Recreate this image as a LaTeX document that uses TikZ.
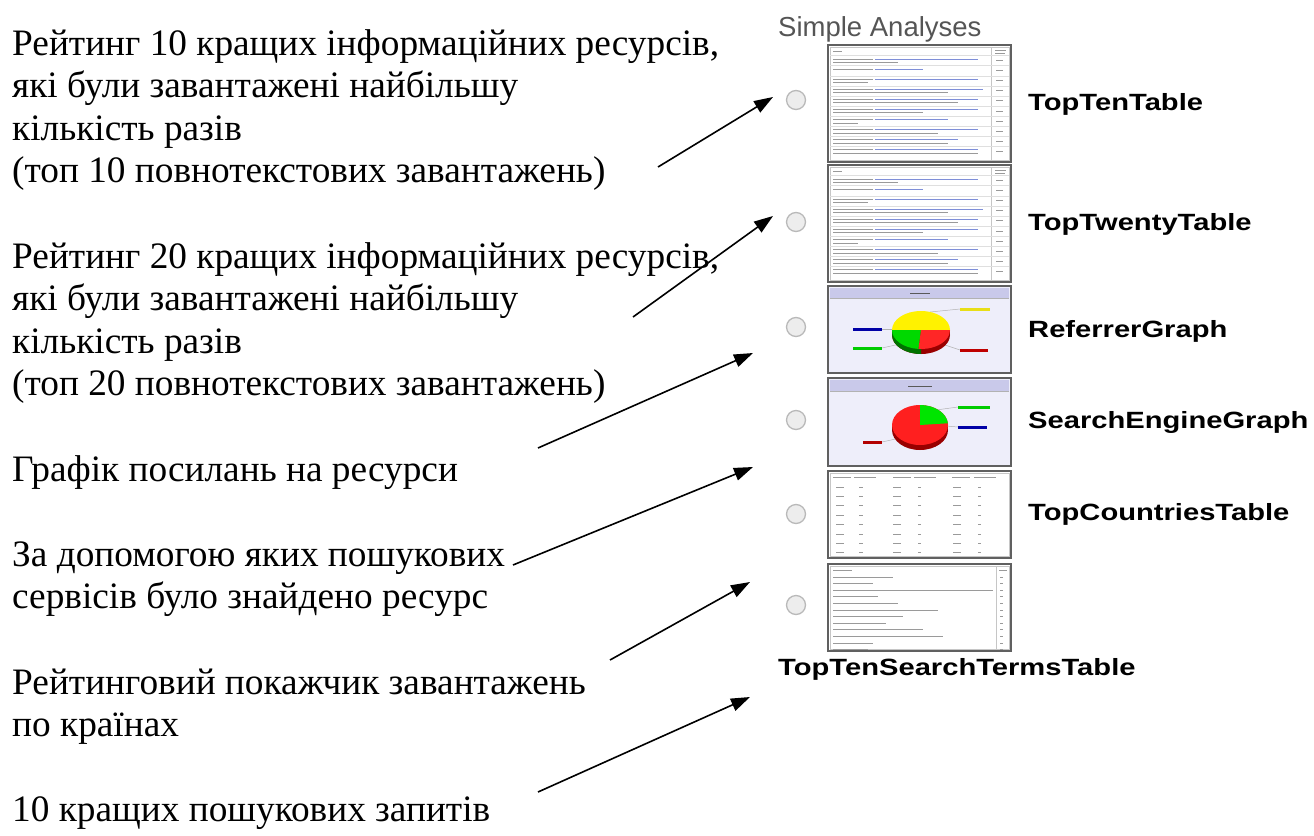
\documentclass[tikz,border=0pt]{standalone}
\usepackage{fontspec}
\usepackage{graphicx}
\setmainfont{Liberation Serif}
\newfontfamily\sansf{Liberation Sans}
\usetikzlibrary{arrows.meta}
\definecolor{lav}{HTML}{EEEEFA}
\definecolor{hdrc}{HTML}{C9C9EA}
\definecolor{txtc}{HTML}{9A9A9A}
\definecolor{lnkc}{HTML}{7F8FD8}
\definecolor{titc}{HTML}{555555}
\newcommand\stretchlbl[1]{\scalebox{1.24}[1]{#1}}
\tikzset{
  desc/.style={anchor=base west, inner sep=0pt, font=\fontsize{37.3}{42.6}\selectfont},
  lab/.style={anchor=base west, inner sep=0pt, font=\sansf\bfseries\fontsize{23.5}{28}\selectfont},
  arr/.style={-{Triangle[length=19pt,width=13pt]}, line width=1.6pt},
  radio/.style={circle, minimum size=19pt, inner sep=0pt, draw=gray!55, fill=gray!14, line width=1.3pt},
  thumb/.style={draw=gray!75!black, line width=1.4pt, minimum width=183pt, minimum height=#1, inner sep=0pt},
  tx/.style={draw=txtc, line width=0.9pt},
  lk/.style={draw=lnkc, line width=0.9pt},
  leader/.style={draw=gray!60, line width=0.5pt},
}
\begin{document}
\begin{tikzpicture}[x=1pt,y=-1pt]
\useasboundingbox (0,0) rectangle (1314,835);

% ---------- left descriptions ----------
\node[desc] (d1a) at (12,55)    {Рейтинг 10 кращих інформаційних ресурсів,};
\node[desc] (d1b) at (12,97.6)  {які були завантажені найбільшу};
\node[desc] (d1c) at (12,140.2) {кількість разів};
\node[desc] (d1d) at (12,182.8) {(топ 10 повнотекстових завантажень)};
\node[desc] (d2a) at (12,268)   {Рейтинг 20 кращих інформаційних ресурсів,};
\node[desc] (d2b) at (12,310.6) {які були завантажені найбільшу};
\node[desc] (d2c) at (12,353.2) {кількість разів};
\node[desc] (d2d) at (12,395.8) {(топ 20 повнотекстових завантажень)};
\node[desc] (d3)  at (12,481)   {Графік посилань на ресурси};
\node[desc] (d4a) at (12,566.2) {За допомогою яких пошукових};
\node[desc] (d4b) at (12,608.8) {сервісів було знайдено ресурс};
\node[desc] (d5a) at (12,694)   {Рейтинговий покажчик завантажень};
\node[desc] (d5b) at (12,736.6) {по країнах};
\node[desc] (d6)  at (12,821.8) {10 кращих пошукових запитів};

% ---------- title ----------
\node[anchor=base west, inner sep=0pt, text=titc, font=\sansf\fontsize{27.5}{32}\selectfont] (title) at (778,36) {Simple Analyses};

% ---------- radio buttons ----------
\node[radio] (r1) at (796,100) {};
\node[radio] (r2) at (796,222) {};
\node[radio] (r3) at (796,327) {};
\node[radio] (r4) at (796,420) {};
\node[radio] (r5) at (796,514) {};
\node[radio] (r6) at (796,605) {};

% ---------- thumbnail 1 & 2: tables ----------
\foreach \yo/\nm in {45/th1,165/th2}{
  \node[thumb=117pt] (\nm) at (919.5,\yo+58.5) {};
  \begin{scope}[shift={(828,\yo)}]
    \draw[gray!45, line width=0.5pt] (2,2) rectangle (181,115);
    \draw[gray!45, line width=0.5pt] (163,2) -- (163,115);
    \draw[tx] (5,6) -- (14,6);
    \draw[tx] (167,5) -- (178,5);
    \draw[tx] (167,8) -- (177,8);
    \foreach \i/\a/\b in {0/150/70,1/95/0,2/150/40,3/155/120,4/150/130,5/150/95,6/120/30,7/150/110,8/130/120,9/150/150}{
      \pgfmathsetmacro\yy{14+10.1*\i}
      \draw[gray!25, line width=0.4pt] (2,\yy-3.5) -- (181,\yy-3.5);
      \draw[tx] (5,\yy) -- (45,\yy);
      \draw[lk] (47,\yy) -- (\a,\yy);
      \ifnum\b>0 \draw[tx] (5,\yy+3.4) -- (\b,\yy+3.4); \fi
      \draw[tx] (168,\yy+1.5) -- (175,\yy+1.5);
    }
  \end{scope}
}

% ---------- thumbnail 3: referrer graph ----------
\node[thumb=87pt, fill=lav] (th3) at (919.5,329.5) {};
\begin{scope}[shift={(828,286)}]
  \fill[hdrc] (2,2) rectangle (181,12);
  \draw[gray!60, line width=0.5pt] (2,12) -- (181,12);
  \draw[gray!70!black, line width=1pt] (82,7) -- (102,7);
  \draw[leader] (54,43) -- (78,43);
  \draw[leader] (54,62) -- (72,58);
  \draw[leader] (132,23) -- (102,26);
  \draw[leader] (132,64) -- (114,58);
  \fill[red!60!black] (93,49) ellipse [x radius=29, y radius=19];
  \fill[green!45!black] (93,49) -- ++(-29,0) arc[start angle=180, end angle=90, x radius=29, y radius=19] -- cycle;
  \fill[green!45!black] (64,44) rectangle (93,49);
  \fill[red!60!black] (93,44) rectangle (122,49);
  \fill[yellow] (93,44) -- ++(-29,0) arc[start angle=180, end angle=360, x radius=29, y radius=19] -- cycle;
  \fill[green!85!black] (93,44) -- ++(-29,0) arc[start angle=180, end angle=95, x radius=29, y radius=19] -- cycle;
  \fill[red!85] (93,44) -- ++(29,0) arc[start angle=0, end angle=95, x radius=29, y radius=19] -- cycle;
  \fill[blue!65!black] (25,41.5) rectangle (54,44.5);
  \fill[green!80!black] (25,60.5) rectangle (54,63.5);
  \fill[yellow!90!black] (132,21.5) rectangle (162,24.5);
  \fill[red!75!black] (132,62.5) rectangle (160,65.5);
\end{scope}

% ---------- thumbnail 4: search engine graph ----------
\node[thumb=88pt, fill=lav] (th4) at (919.5,422) {};
\begin{scope}[shift={(828,378)}]
  \fill[hdrc] (2,2) rectangle (181,13);
  \draw[gray!60, line width=0.5pt] (2,13) -- (181,13);
  \draw[gray!70!black, line width=1pt] (80,8) -- (104,8);
  \draw[leader] (130,29) -- (108,32);
  \draw[leader] (130,49) -- (118,48);
  \draw[leader] (54,64) -- (72,60);
  \fill[red!60!black] (92,52) ellipse [x radius=28, y radius=20];
  \fill[red!60!black] (64,47) rectangle (120,52);
  \fill[red!88] (92,47) ellipse [x radius=28, y radius=20];
  \fill[green!90!black] (92,47) -- ++(0,-20) arc[start angle=270, end angle=355, x radius=28, y radius=20] -- cycle;
  \fill[green!80!black] (130,27.5) rectangle (162,30.5);
  \fill[blue!65!black] (130,47.5) rectangle (159,50.5);
  \fill[red!70!black] (35,62.5) rectangle (54,65.5);
\end{scope}

% ---------- thumbnail 5: countries table ----------
\node[thumb=87pt] (th5) at (919.5,514.5) {};
\begin{scope}[shift={(828,471)}]
  \draw[gray!45, line width=0.5pt] (2,2) rectangle (181,85);
  \foreach \x/\w in {5/18,26/22,65/18,86/22,124/18,146/22}{
    \draw[tx] (\x,6) -- (\x+\w,6);
  }
  \foreach \i in {0,...,7}{
    \pgfmathsetmacro\yy{16+9.4*\i}
    \draw[tx] (8,\yy) -- (16,\yy);
    \draw[tx] (31,\yy) -- (35,\yy);
    \draw[tx] (65,\yy) -- (73,\yy);
    \draw[tx] (90,\yy) -- (93,\yy);
    \draw[tx] (125,\yy) -- (133,\yy);
    \draw[tx] (150,\yy) -- (153,\yy);
  }
\end{scope}

% ---------- thumbnail 6: search terms table ----------
\node[thumb=87pt] (th6) at (919.5,607.5) {};
\begin{scope}[shift={(828,564)}]
  \draw[gray!45, line width=0.5pt] (2,2) rectangle (181,85);
  \draw[gray!45, line width=0.5pt] (168,2) -- (168,85);
  \draw[tx] (5,6) -- (24,6);
  \draw[tx] (171,6) -- (179,6);
  \foreach \i/\l in {0/65,1/45,2/165,3/50,4/70,5/110,6/75,7/58,8/95,9/115,10/45,11/40}{
    \pgfmathsetmacro\yy{13+6.6*\i}
    \draw[tx] (5,\yy) -- (\l,\yy);
    \draw[tx] (172,\yy) -- (175,\yy);
  }
\end{scope}

% ---------- labels ----------
\node[lab] (l1) at (1028,110.7) {\stretchlbl{TopTenTable}};
\node[lab] (l2) at (1028,230) {\stretchlbl{TopTwentyTable}};
\node[lab] (l3) at (1028,337) {\stretchlbl{ReferrerGraph}};
\node[lab] (l4) at (1028,428) {\stretchlbl{SearchEngineGraph}};
\node[lab] (l5) at (1028,520) {\stretchlbl{TopCountriesTable}};
\node[lab] (l6) at (778,675) {\stretchlbl{TopTenSearchTermsTable}};

% ---------- arrows ----------
\coordinate (a1s) at (658,167); \coordinate (a1e) at (773,97);
\coordinate (a2s) at (633,317); \coordinate (a2e) at (773,216);
\coordinate (a3s) at (538,448); \coordinate (a3e) at (753,353);
\coordinate (a4s) at (513,565); \coordinate (a4e) at (753,467);
\coordinate (a5s) at (610,660); \coordinate (a5e) at (750,582);
\coordinate (a6s) at (538,792); \coordinate (a6e) at (750,697);
\draw[arr] (a1s) -- (a1e);
\draw[arr] (a2s) -- (a2e);
\draw[arr] (a3s) -- (a3e);
\draw[arr] (a4s) -- (a4e);
\draw[arr] (a5s) -- (a5e);
\draw[arr] (a6s) -- (a6e);
\end{tikzpicture}
\end{document}
